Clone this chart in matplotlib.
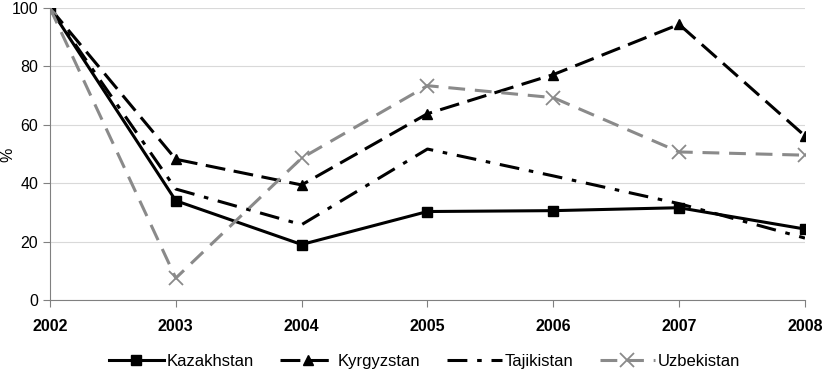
import matplotlib.pyplot as plt

plt.rcParams['font.family'] = ['Liberation Sans', 'DejaVu Sans']

years = [2002, 2003, 2004, 2005, 2006, 2007, 2008]
kazakhstan = [100, 34, 19, 30.3, 30.6, 31.6, 24.3]
kyrgyzstan = [100, 48.2, 39.4, 63.8, 77.2, 94.4, 56.2]
tajikistan = [100, 38, 25.8, 51.7, 42.5, 33, 21.2]
uzbekistan = [100, 7.5, 48.6, 73.4, 69.3, 50.7, 49.6]

fig = plt.figure(figsize=(8.3, 3.82), dpi=100)
ax = fig.add_axes([0.0602, 0.2147, 0.9096, 0.7643])

ax.plot(years, kazakhstan, color='black', lw=2.2, marker='s', ms=7,
        label='Kazakhstan')
ax.plot(years, kyrgyzstan, color='black', lw=2.2, marker='^', ms=7,
        dashes=(6.5, 2.8), label='Kyrgyzstan')
ax.plot(years, tajikistan, color='black', lw=2.2,
        dashes=(6.5, 3.2, 1.5, 3.2), label='Tajikistan')
ax.plot(years, uzbekistan, color='#8a8a8a', lw=2.2, marker='x', ms=10,
        mew=1.3, dashes=(5.5, 3.2), label='Uzbekistan')

ax.set_xlim(2002, 2008)
ax.set_ylim(0, 100)
ax.set_xticks(years)
ax.set_xticklabels([str(y) for y in years], fontweight='bold')
ax.set_yticks(range(0, 101, 20))
ax.tick_params(axis='x', labelsize=11.5, length=5, color='#808080', pad=9)
ax.tick_params(axis='y', labelsize=11.5, length=5, color='#808080')
ax.grid(axis='y', color='#d9d9d9', lw=0.8)
ax.set_axisbelow(True)
for s in ['top', 'right']:
    ax.spines[s].set_visible(False)
for s in ['left', 'bottom']:
    ax.spines[s].set_color('#808080')
fig.text(0.0, 0.595, '%', rotation=90, fontsize=11.5, va='center', ha='left')

fig.legend(loc='lower center', ncol=4, frameon=False, fontsize=12,
           bbox_to_anchor=(0.511, -0.005), handlelength=3.3, columnspacing=1.6,
           handletextpad=0.15)

fig.savefig('out.png', dpi=100)
